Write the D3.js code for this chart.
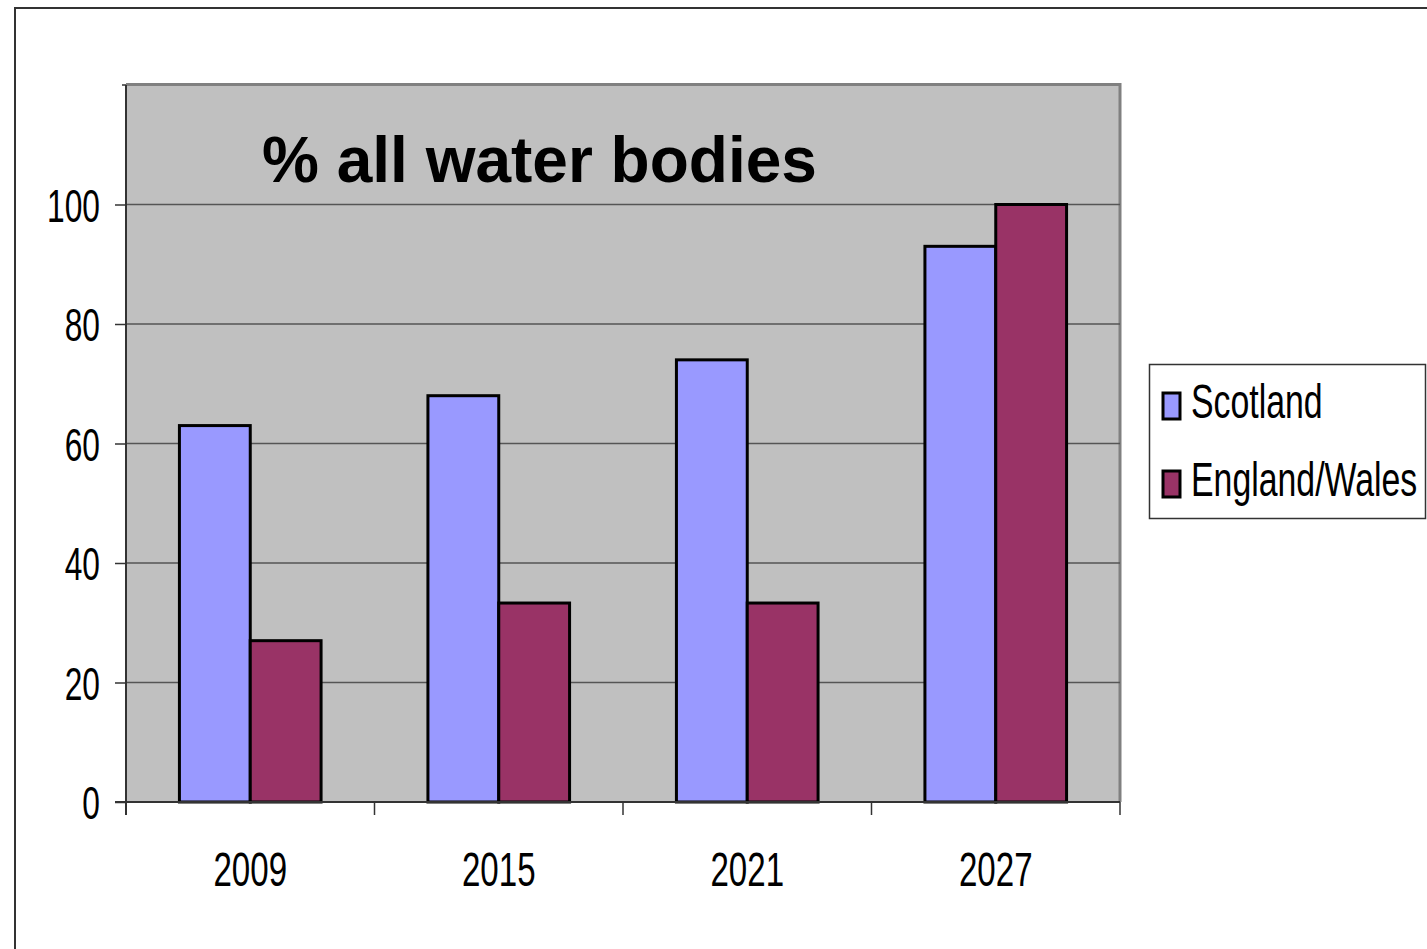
<!DOCTYPE html>
<html>
<head>
<meta charset="utf-8">
<script src="https://cdn.jsdelivr.net/npm/d3@7"></script>
<style>
  html, body { margin: 0; padding: 0; background: #fff; }
  svg { display: block; }
  text { font-family: "Liberation Sans", Arial, sans-serif; fill: #000; }
</style>
</head>
<body>
<svg id="chart" width="1427" height="949"></svg>
<script>
"use strict";

// data
var years = ["2009", "2015", "2021", "2027"];
var seriesNames = ["Scotland", "England/Wales"];
var scotland = [63, 68, 74, 93];
var englandWales = [27, 33.3, 33.3, 100];
var seriesColors = ["#9999FF", "#993366"];
var yTicks = [0, 20, 40, 60, 80, 100];
var chartTitle = "% all water bodies";

(function () {
    var svg = d3.select("#chart");
    var squeeze = 0.69; // the fonts in the original are narrow

    var plot = { left: 126, right: 1120, top: 85, bottom: 802 };

    var x = d3.scaleBand()
        .domain(years)
        .range([plot.left, plot.right])
        .padding(0);

    var x1 = d3.scaleBand()
        .domain(seriesNames)
        .range([-x.bandwidth() * 0.285, x.bandwidth() * 0.285])
        .padding(0);

    var y = d3.scaleLinear()
        .domain([0, 120])
        .range([plot.bottom, plot.top]);

    // outer frame (only left and top visible)
    svg.append("path")
        .attr("d", "M15,949 L15,8 L1427,8")
        .attr("fill", "none")
        .attr("stroke", "#333")
        .attr("stroke-width", 2);

    // plot background
    svg.append("rect")
        .attr("x", plot.left)
        .attr("y", plot.top)
        .attr("width", plot.right - plot.left)
        .attr("height", plot.bottom - plot.top)
        .attr("fill", "#C0C0C0");

    // gray shadow-like border top and right
    svg.append("path")
        .attr("d", "M" + plot.left + "," + (plot.top - 0.5) + " L" + (plot.right) + "," + (plot.top - 0.5) + " L" + plot.right + "," + plot.bottom)
        .attr("fill", "none")
        .attr("stroke", "#808080")
        .attr("stroke-width", 3);

    // gridlines
    svg.append("g")
        .selectAll("line")
        .data(yTicks.filter(function (d) { return d > 0; }))
        .enter().append("line")
            .attr("x1", plot.left)
            .attr("x2", plot.right)
            .attr("y1", function (d) { return y(d); })
            .attr("y2", function (d) { return y(d); })
            .attr("stroke", "#555")
            .attr("stroke-width", 1.5);

    // bars
    var series = [scotland, englandWales];
    var groups = svg.append("g").selectAll("g")
        .data(years)
        .enter().append("g")
            .attr("transform", function (d) { return "translate(" + (x(d) + x.bandwidth() / 2) + ",0)"; });

    groups.selectAll("rect")
        .data(function (yr, i) {
            return seriesNames.map(function (name, s) {
                return { name: name, value: series[s][i], color: seriesColors[s] };
            });
        })
        .enter().append("rect")
            .attr("x", function (d) { return x1(d.name); })
            .attr("y", function (d) { return y(d.value); })
            .attr("width", x1.bandwidth())
            .attr("height", function (d) { return y(0) - y(d.value); })
            .attr("fill", function (d) { return d.color; })
            .attr("stroke", "#000")
            .attr("stroke-width", 3);

    // y axis
    var yAxis = d3.axisLeft(y)
        .tickValues(yTicks)
        .tickSize(11)
        .tickFormat("");
    var yAxisG = svg.append("g")
        .attr("transform", "translate(" + plot.left + ",0)")
        .call(yAxis);
    yAxisG.select(".domain")
        .attr("d", "M0," + y(120) + "V" + (plot.bottom + 13))
        .attr("stroke", "#333")
        .attr("stroke-width", 2);
    yAxisG.selectAll(".tick line").attr("stroke", "#333").attr("stroke-width", 1.5);
    // small top tick
    yAxisG.append("line")
        .attr("x1", -4).attr("x2", 0)
        .attr("y1", y(120)).attr("y2", y(120))
        .attr("stroke", "#333").attr("stroke-width", 1.5);

    svg.append("g").selectAll("text")
        .data(yTicks)
        .enter().append("text")
            .attr("transform", function (d) { return "translate(100," + (y(d) + 17) + ") scale(" + squeeze + ",1)"; })
            .attr("text-anchor", "end")
            .style("font-size", "46px")
            .text(function (d) { return d; });

    // x axis
    var xAxisG = svg.append("g")
        .attr("transform", "translate(0," + plot.bottom + ")");
    xAxisG.append("line")
        .attr("x1", plot.left - 11).attr("x2", plot.right)
        .attr("y1", 0).attr("y2", 0)
        .attr("stroke", "#333").attr("stroke-width", 2);
    var boundaries = years.map(function (d) { return x(d); }).concat([plot.right]);
    xAxisG.selectAll(".xtick")
        .data(boundaries)
        .enter().append("line")
            .attr("class", "xtick")
            .attr("x1", function (d) { return d; })
            .attr("x2", function (d) { return d; })
            .attr("y1", 0).attr("y2", 13)
            .attr("stroke", "#333").attr("stroke-width", 1.5);

    svg.append("g").selectAll("text")
        .data(years)
        .enter().append("text")
            .attr("transform", function (d) { return "translate(" + (x(d) + x.bandwidth() / 2) + ",886) scale(" + squeeze + ",1)"; })
            .attr("text-anchor", "middle")
            .style("font-size", "48px")
            .text(function (d) { return d; });

    // title inside the plot area
    svg.append("text")
        .attr("x", 262)
        .attr("y", 182)
        .style("font-size", "64px")
        .style("font-weight", "bold")
        .text(chartTitle);

    // legend
    var legend = svg.append("g");
    legend.append("rect")
        .attr("x", 1149.5).attr("y", 364.5)
        .attr("width", 276).attr("height", 154)
        .attr("fill", "#fff")
        .attr("stroke", "#333")
        .attr("stroke-width", 1.5);

    var items = legend.selectAll(".item")
        .data(seriesNames)
        .enter().append("g")
            .attr("class", "item")
            .attr("transform", function (d, i) { return "translate(0," + (i * 78) + ")"; });
    items.append("rect")
        .attr("x", 1163).attr("y", 393)
        .attr("width", 17).attr("height", 26)
        .attr("fill", function (d, i) { return seriesColors[i]; })
        .attr("stroke", "#000")
        .attr("stroke-width", 3);
    items.append("text")
        .attr("transform", "translate(1191,418) scale(0.705,1)")
        .style("font-size", "48px")
        .text(function (d) { return d; });
}());
</script>
</body>
</html>
